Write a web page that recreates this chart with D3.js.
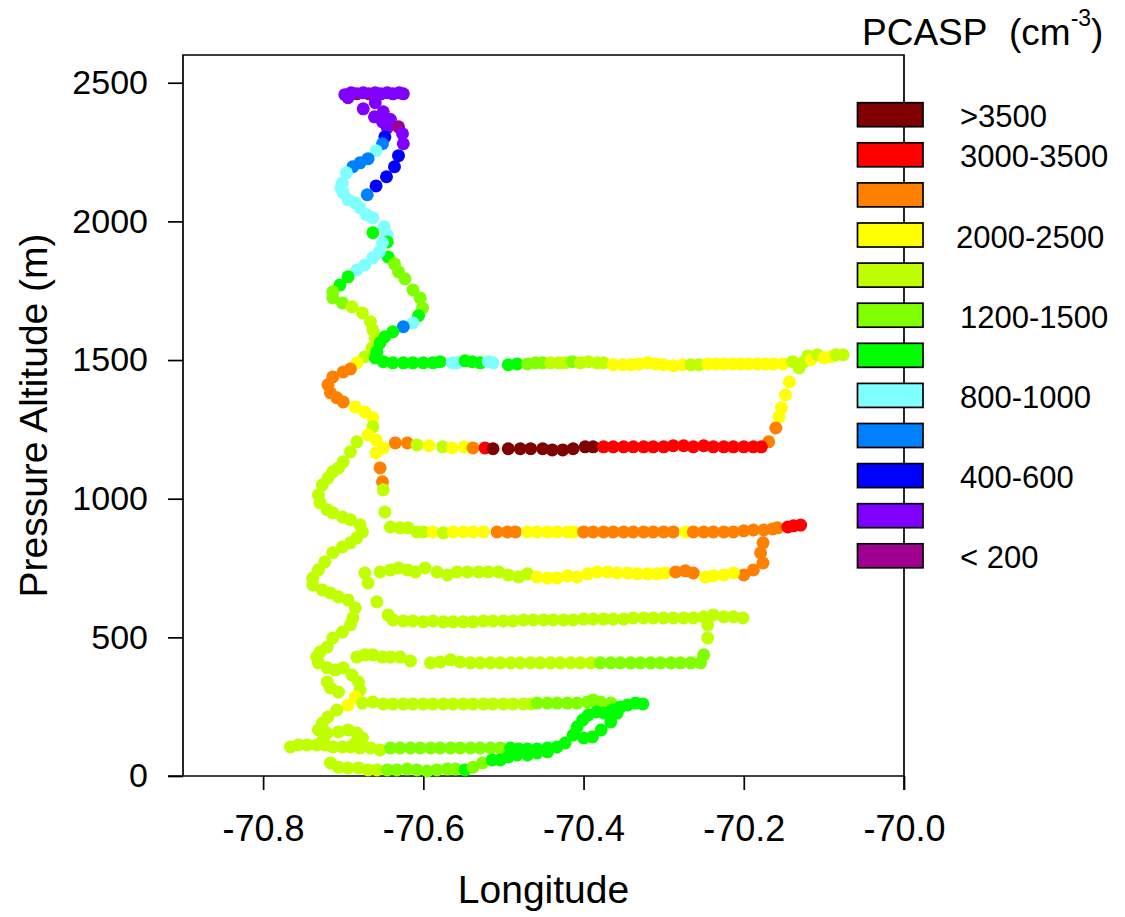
<!DOCTYPE html>
<html><head><meta charset="utf-8">
<script src="https://cdn.jsdelivr.net/npm/d3@7"></script>
<style>
html,body{margin:0;padding:0;background:#fff;}
svg{display:block;font-family:"Liberation Sans",Arial,sans-serif;}
</style></head>
<body>
<svg id="chart" width="1125" height="917"></svg>
<script>
// PCASP concentration classes (legend, top to bottom)
const categories = [">3500","3000-3500","2500-3000","2000-2500","1500-2000","1200-1500","1000-1200","800-1000","600-800","400-600","200-400","< 200"];
const legendLabels = [">3500","3000-3500","","2000-2500","","1200-1500","","800-1000","","400-600","","< 200"];
const colors = ["#7F0000","#FF0000","#FF8000","#FFFF00","#C0FF00","#80FF00","#00FF00","#80FFFF","#0080FF","#0000FF","#8000FF","#A00090"];
const xTicks = [-70.8,-70.6,-70.4,-70.2,-70.0];
const yTicks = [0,500,1000,1500,2000,2500];

// flight track points: [longitude, pressure altitude (m), class index]
const legTop = [
 [-70.683,2460,11],[-70.668,2460,11],
 [-70.698,2457,10],[-70.69,2464,10],[-70.675,2464,10],[-70.66,2464,10],[-70.653,2460,10],[-70.645,2464,10],[-70.638,2460,10],[-70.63,2464,10],[-70.625,2460,10],
 [-70.694,2446,10],[-70.675,2406,10],[-70.66,2428,10],[-70.65,2395,10],[-70.661,2377,10],[-70.651,2359,10],[-70.641,2367,10],[-70.645,2338,10],[-70.631,2341,11],[-70.626,2316,10],[-70.625,2280,10],
 [-70.631,2237,9],[-70.636,2197,9],[-70.646,2161,9],[-70.659,2128,9],[-70.67,2096,8],
 [-70.648,2305,9],[-70.651,2280,8],[-70.659,2255,7],[-70.669,2226,8],[-70.679,2211,8],[-70.688,2197,8],[-70.696,2175,7],[-70.701,2139,7],[-70.703,2121,7],[-70.7,2103,7],[-70.694,2078,7],[-70.685,2067,7],[-70.679,2049,7],[-70.671,2024,7],[-70.663,2013,7],[-70.649,1981,7],[-70.645,1952,7],
 [-70.663,1959,6],[-70.645,1926,6],[-70.651,1923,7],[-70.644,1872,6],[-70.655,1890,7],[-70.663,1869,7],[-70.673,1843,7],[-70.683,1825,7],[-70.694,1800,6],[-70.704,1771,6],[-70.713,1746,5],[-70.713,1724,5],[-70.701,1706,5],[-70.689,1692,4],[-70.676,1670,4],[-70.666,1638,4],[-70.663,1609,4],[-70.66,1580,4],[-70.664,1544,4],[-70.673,1512,4],[-70.683,1490,3],[-70.691,1468,2],[-70.7,1457,2],[-70.713,1439,2],[-70.719,1411,2],[-70.716,1382,2],[-70.708,1364,2],[-70.7,1349,2],[-70.685,1331,3],[-70.673,1313,3],[-70.663,1292,3],[-70.663,1259,4],[-70.669,1230,3],[-70.659,1212,3],[-70.65,1183,3],[-70.659,1165,3],
 [-70.636,1847,5],[-70.631,1818,5],[-70.623,1793,5],[-70.613,1753,5],[-70.604,1724,5],[-70.601,1688,5],[-70.606,1660,6],[-70.613,1634,7],[-70.625,1620,8],[-70.638,1602,6],[-70.648,1584,6],[-70.654,1562,6],[-70.658,1530,6]
];
const leg1500 = [
 [-70.66,1508,6],[-70.65,1494,6],[-70.638,1490,6],[-70.625,1490,6],[-70.613,1490,6],[-70.6,1490,6],[-70.588,1490,6],[-70.579,1494,6],[-70.564,1490,7],[-70.558,1490,7],[-70.548,1497,6],[-70.539,1494,6],[-70.529,1490,6],[-70.519,1494,7],[-70.513,1490,7],[-70.494,1483,6],[-70.483,1486,6],[-70.47,1486,5],[-70.46,1490,5],[-70.451,1490,5],[-70.441,1490,4],[-70.431,1490,4],[-70.423,1490,4],[-70.414,1494,5],[-70.404,1490,4],[-70.394,1494,4],[-70.383,1490,4],[-70.375,1490,4],
 [-70.363,1483,3],[-70.351,1483,3],[-70.341,1483,3],[-70.331,1486,3],[-70.32,1490,3],[-70.31,1486,3],[-70.3,1483,3],[-70.288,1479,3],[-70.276,1483,3],[-70.266,1483,4],[-70.256,1483,4],[-70.245,1486,3],[-70.235,1486,3],[-70.225,1486,3],[-70.214,1486,3],[-70.204,1486,3],[-70.194,1486,3],[-70.183,1486,3],[-70.173,1486,3],[-70.163,1486,3],[-70.151,1486,3],
 [-70.139,1494,4],[-70.131,1472,4],[-70.125,1494,4],[-70.12,1515,4],[-70.116,1501,3],[-70.108,1519,4],[-70.1,1508,3],[-70.091,1512,3],[-70.085,1519,4],[-70.076,1519,4],
 [-70.143,1421,3],[-70.148,1374,3],[-70.153,1328,3],[-70.156,1295,3],[-70.16,1255,2],[-70.169,1205,2]
];
const leg1200 = [
 [-70.635,1201,2],[-70.62,1201,2],[-70.608,1194,4],[-70.593,1191,3],[-70.576,1187,4],[-70.564,1183,3],[-70.549,1187,3],[-70.538,1183,2],[-70.523,1183,1],
 [-70.513,1180,0],[-70.494,1180,0],[-70.479,1180,0],[-70.466,1180,0],[-70.451,1180,0],[-70.439,1176,0],[-70.426,1176,0],[-70.413,1180,0],[-70.398,1187,0],[-70.388,1187,0],
 [-70.375,1187,1],[-70.363,1187,1],[-70.35,1187,1],[-70.338,1187,1],[-70.325,1187,1],[-70.313,1187,1],[-70.3,1187,1],[-70.288,1191,1],[-70.275,1191,1],[-70.263,1187,1],[-70.25,1191,1],[-70.238,1187,1],[-70.225,1187,1],[-70.213,1187,1],[-70.2,1187,1],[-70.188,1187,1],[-70.178,1187,1]
];
const legSpiral = [
 [-70.654,1111,2],[-70.651,1061,2],[-70.65,1032,4],
 [-70.683,1205,4],[-70.691,1169,4],[-70.7,1133,4],[-70.706,1111,4],[-70.713,1097,4],[-70.719,1075,4],[-70.726,1050,4],[-70.731,1014,4],[-70.729,985,4],[-70.72,960,4],[-70.713,949,4],[-70.701,934,4],[-70.691,924,4],[-70.679,906,4],[-70.676,880,4],[-70.683,859,4],[-70.691,841,4],[-70.701,826,4],[-70.713,805,4],[-70.723,772,4],[-70.731,743,4],[-70.738,714,4],[-70.738,689,4],[-70.726,671,4],[-70.716,660,4],[-70.706,646,4],[-70.694,635,4],[-70.685,606,4],[-70.688,570,4],[-70.691,545,4],[-70.701,519,4],[-70.713,498,4],[-70.72,465,4],[-70.729,447,4],[-70.733,429,4],[-70.731,408,4],[-70.72,390,4],[-70.71,382,4],[-70.7,390,4],[-70.689,364,4],[-70.681,339,4],[-70.679,310,4],[-70.716,318,4],[-70.706,303,4],[-70.72,339,4],[-70.685,285,3],[-70.694,256,3],[-70.708,238,4],[-70.719,213,4],[-70.726,191,4],[-70.731,166,4],[-70.72,155,4],[-70.706,159,4],[-70.694,166,4],[-70.683,155,4],[-70.676,137,4],[-70.685,119,4],[-70.725,130,4]
];
const leg900 = [
 [-70.648,952,4],[-70.641,898,4],[-70.629,895,4],[-70.619,895,4],[-70.608,880,4],[-70.6,880,4],[-70.588,880,3],[-70.575,877,4],[-70.563,880,3],[-70.55,880,3],[-70.538,880,3],[-70.525,880,3],[-70.508,880,2],[-70.495,880,2],[-70.485,880,2],[-70.47,880,3],[-70.458,880,3],[-70.445,880,3],[-70.433,880,3],[-70.42,880,3],[-70.413,880,3],
 [-70.4,880,2],[-70.388,880,2],[-70.375,880,2],[-70.363,880,2],[-70.35,880,2],[-70.338,880,2],[-70.325,880,2],[-70.313,880,2],[-70.3,880,2],[-70.288,880,2],[-70.273,880,3],[-70.263,880,2],[-70.25,880,2],[-70.238,880,2],[-70.225,880,2],[-70.213,880,2],[-70.2,884,2],[-70.188,887,2],[-70.175,887,2],[-70.164,891,2],[-70.158,895,2],
 [-70.145,898,1],[-70.138,902,1],[-70.129,905,1],
 [-70.176,841,2],[-70.179,805,2],[-70.176,768,2],[-70.188,743,2],[-70.2,725,2]
];
const leg730 = [
 [-70.673,732,4],[-70.669,696,4],[-70.654,736,4],[-70.641,743,4],[-70.631,750,4],[-70.62,743,4],[-70.61,736,4],[-70.598,750,4],[-70.583,736,4],[-70.57,725,4],[-70.558,736,4],[-70.545,736,4],[-70.531,736,4],[-70.519,736,4],[-70.506,736,4],[-70.494,725,4],[-70.481,718,4],[-70.47,729,4],
 [-70.458,718,3],[-70.445,714,3],[-70.433,714,3],[-70.42,722,3],[-70.408,718,3],[-70.395,729,3],[-70.383,736,3],[-70.37,736,3],[-70.358,732,3],[-70.345,732,3],[-70.333,729,3],[-70.32,729,3],[-70.308,729,3],[-70.298,732,3],
 [-70.285,736,2],[-70.273,740,2],[-70.263,732,2],[-70.248,718,3],[-70.238,722,3],[-70.225,725,3],[-70.213,732,3],
 [-70.658,628,4]
];
const leg560 = [
 [-70.644,581,4],[-70.638,563,4],[-70.625,559,4],[-70.613,559,4],[-70.6,556,4],[-70.588,559,4],[-70.575,556,4],[-70.563,556,4],[-70.55,556,4],[-70.538,556,4],[-70.525,559,4],[-70.513,559,4],[-70.5,559,4],[-70.488,559,4],[-70.475,563,4],[-70.463,563,4],[-70.45,563,4],[-70.438,563,4],[-70.425,563,4],[-70.413,563,4],[-70.4,566,4],[-70.388,566,4],[-70.375,566,4],[-70.363,566,4],[-70.35,566,4],[-70.338,570,4],[-70.325,570,4],[-70.313,570,4],[-70.3,570,4],[-70.288,570,4],[-70.275,570,4],[-70.263,570,4],[-70.25,574,4],[-70.238,581,4],[-70.225,574,4],[-70.213,574,4],[-70.201,570,4],
 [-70.245,545,4],[-70.245,498,4]
];
const leg420 = [
 [-70.683,429,4],[-70.673,437,4],[-70.663,437,4],[-70.651,429,4],[-70.641,429,4],[-70.629,429,4],[-70.616,415,4],
 [-70.591,408,4],[-70.579,411,4],[-70.566,419,4],[-70.554,411,4],[-70.541,408,4],[-70.529,408,4],[-70.516,408,4],[-70.504,408,4],[-70.491,408,4],[-70.479,408,4],[-70.466,408,4],[-70.454,408,4],[-70.441,408,4],[-70.429,408,4],[-70.416,408,4],[-70.404,408,4],[-70.391,408,4],
 [-70.379,408,5],[-70.366,408,5],[-70.354,408,5],[-70.341,408,5],[-70.329,408,5],[-70.316,408,5],[-70.304,408,5],[-70.291,408,5],[-70.279,408,5],[-70.266,408,5],[-70.254,408,5],[-70.25,437,5]
];
const leg250 = [
 [-70.676,263,4],[-70.663,267,4],[-70.65,260,4],[-70.638,260,4],[-70.625,260,4],[-70.613,260,4],[-70.6,260,4],[-70.588,260,4],[-70.575,260,4],[-70.563,260,4],[-70.55,260,4],[-70.538,260,4],[-70.525,260,4],[-70.513,260,4],[-70.5,260,4],[-70.488,260,4],[-70.475,260,4],[-70.466,260,4],
 [-70.458,263,5],[-70.445,263,5],[-70.433,263,5],[-70.42,263,5],[-70.408,263,5],[-70.395,267,5],[-70.388,274,5],[-70.379,267,5],[-70.366,263,5],
 [-70.345,256,6],[-70.335,263,6],[-70.326,260,6]
];
const leg100 = [
 [-70.766,105,4],[-70.756,112,4],[-70.745,112,4],[-70.733,112,4],[-70.723,112,4],[-70.713,105,4],[-70.701,105,4],[-70.691,105,4],[-70.679,101,4],[-70.666,101,4],[-70.654,94,4],
 [-70.641,101,5],[-70.629,101,5],[-70.616,101,5],[-70.604,101,5],[-70.591,101,5],[-70.579,101,5],[-70.566,101,5],[-70.554,101,5],[-70.541,101,5],[-70.529,101,5],[-70.516,101,5],[-70.504,101,5],
 [-70.491,101,6],[-70.481,97,6],[-70.47,97,6],[-70.458,97,6],[-70.445,101,6],[-70.433,105,6],[-70.423,119,6],[-70.413,148,6],[-70.408,177,6],[-70.401,202,6],[-70.394,220,6],[-70.384,231,6],[-70.374,227,6],[-70.364,238,6],[-70.354,249,6],
 [-70.358,227,6],[-70.366,195,6],[-70.378,166,6],[-70.389,141,6],[-70.4,137,6]
];
const legSurface = [
 [-70.716,47,4],[-70.706,32,4],[-70.694,29,4],[-70.681,29,4],[-70.669,22,4],[-70.658,22,4],
 [-70.645,22,5],[-70.633,22,5],[-70.62,25,5],[-70.608,22,5],[-70.595,18,5],[-70.583,22,5],[-70.57,25,5],[-70.56,25,5],
 [-70.548,22,6],[-70.538,32,5],[-70.526,47,5],[-70.514,58,6],[-70.504,58,6],[-70.494,69,6],[-70.483,76,6],[-70.47,76,6],[-70.458,83,6],[-70.445,87,6]
];

const svg = d3.select("#chart");
const mLeft = 183, mRight = 904, mTop = 55, mBottom = 776;

const x = d3.scaleLinear().domain([-70.9, -70.0]).range([mLeft, mRight]);
const y = d3.scaleLinear().domain([0, 2600]).range([mBottom, mTop]);
const color = d3.scaleOrdinal().domain(d3.range(categories.length)).range(colors);

// frame (left, top, right, bottom)
const frame = svg.append("g").attr("stroke", "#000").attr("stroke-width", 1.7).attr("fill", "none");
frame.append("path").attr("d", `M${mLeft},${mBottom}V${mTop}H${mRight}V${mBottom + 14}`);
frame.append("path").attr("d", `M${mLeft - 15},${mBottom}H${mRight}`);

// axes
const yAxis = d3.axisLeft(y).tickValues(yTicks).tickSize(15).tickPadding(20).tickFormat(d => String(d));
const gy = svg.append("g").attr("transform", `translate(${mLeft},0)`).call(yAxis);
gy.select(".domain").remove();
gy.selectAll("line").attr("stroke-width", 1.7);
gy.selectAll("text").attr("font-size", 34).attr("font-family", "Liberation Sans, Arial, sans-serif").attr("fill", "#000");

const xAxis = d3.axisBottom(x).tickValues(xTicks).tickSize(14).tickPadding(25).tickFormat(d => d.toFixed(1));
const gx = svg.append("g").attr("transform", `translate(0,${mBottom})`).call(xAxis);
gx.select(".domain").remove();
gx.selectAll("line").attr("stroke-width", 1.7);
gx.selectAll("text").attr("font-size", 36).attr("font-family", "Liberation Sans, Arial, sans-serif").attr("fill", "#000");

// axis titles
svg.append("text").attr("x", (mLeft + mRight) / 2).attr("y", 903)
  .attr("text-anchor", "middle").attr("font-size", 39).text("Longitude");
svg.append("text").attr("transform", `translate(47,${(mTop + mBottom) / 2}) rotate(-90)`)
  .attr("text-anchor", "middle").attr("font-size", 39).text("Pressure Altitude (m)");

// points
const legs = [legTop, leg1500, leg1200, legSpiral, leg900, leg730, leg560, leg420, leg250, leg100, legSurface];
const pts = svg.append("g");
legs.forEach(leg => {
  pts.selectAll(null).data(leg).enter().append("circle")
    .attr("cx", d => x(d[0])).attr("cy", d => y(d[1])).attr("r", 6.5)
    .attr("fill", d => color(d[2]));
});

// legend
const lg = svg.append("g");
const boxX = 857.5, boxW = 65.5, boxH = 24, boxTop = 102.7, boxStep = 40.1;
lg.selectAll("rect").data(categories).enter().append("rect")
  .attr("x", boxX).attr("y", (d, i) => boxTop + i * boxStep)
  .attr("width", boxW).attr("height", boxH)
  .attr("fill", (d, i) => colors[i]).attr("stroke", "#000").attr("stroke-width", 1.7);
lg.selectAll("text.lab").data(legendLabels).enter().append("text").attr("class", "lab")
  .attr("x", (d, i) => i === 3 ? 956 : 960)
  .attr("y", (d, i) => boxTop + i * boxStep + boxH / 2 + 2)
  .attr("dominant-baseline", "central").attr("font-size", 31).text(d => d);

const t = svg.append("text").attr("y", 45).attr("font-size", 37);
t.append("tspan").attr("x", 862).text("PCASP");
t.append("tspan").attr("x", 1009).text("(cm");
t.append("tspan").attr("dy", -19).attr("font-size", 23).text("-3");
t.append("tspan").attr("dy", 19).text(")");
</script>
</body></html>
